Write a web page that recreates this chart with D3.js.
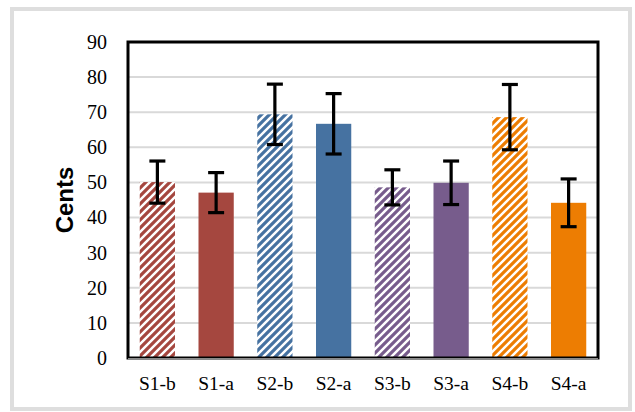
<!DOCTYPE html>
<html>
<head>
<meta charset="utf-8">
<script src="https://cdn.jsdelivr.net/npm/d3@7"></script>
<style>
  html, body { margin: 0; padding: 0; background: #fff; }
  svg { display: block; }
</style>
</head>
<body>
<svg id="chart" width="635" height="412"></svg>
<script>
// Category labels and their groups (b = hatched, a = solid)
const categories = ["S1-b", "S1-a", "S2-b", "S2-a", "S3-b", "S3-a", "S4-b", "S4-a"];
const values     = [50.1, 47.1, 69.4, 66.7, 48.6, 49.9, 68.6, 44.2];
const errors     = [6.0, 5.7, 8.6, 8.6, 5.0, 6.2, 9.3, 6.8];
const hatched    = [true, false, true, false, true, false, true, false];
const colors     = ["#a5473f", "#a5473f", "#4672a1", "#4672a1", "#775c8c", "#775c8c", "#ed7d02", "#ed7d02"];
const yTicks     = [0, 10, 20, 30, 40, 50, 60, 70, 80, 90];
const yLabel     = "Cents";

const svg = d3.select("#chart");

// Outer chart-area border
svg.append("rect")
  .attr("x", 12).attr("y", 9)
  .attr("width", 618).attr("height", 400)
  .attr("fill", "#fff")
  .attr("stroke", "#dedede")
  .attr("stroke-width", 4);

const plot = { left: 128, right: 598, top: 42, bottom: 358 };

const x = d3.scaleBand()
  .domain(categories)
  .range([plot.left, plot.right])
  .paddingInner(0.4)
  .paddingOuter(0.2);

const y = d3.scaleLinear()
  .domain([0, 90])
  .range([plot.bottom, plot.top]);

// Hatch patterns, one per colour
const defs = svg.append("defs");
const uniqueColors = Array.from(new Set(colors));
uniqueColors.forEach((c, i) => {
  const p = defs.append("pattern")
    .attr("id", "hatch" + i)
    .attr("patternUnits", "userSpaceOnUse")
    .attr("width", 8).attr("height", 8);
  p.append("rect").attr("width", 8).attr("height", 8).attr("fill", "#fff");
  p.append("path")
    .attr("d", "M-2,2 L2,-2 M0,8 L8,0 M6,10 L10,6")
    .attr("stroke", c)
    .attr("stroke-width", 3.2);
});
const patternFor = c => "url(#hatch" + uniqueColors.indexOf(c) + ")";

// Gridlines
svg.append("g")
  .selectAll("line")
  .data(yTicks.filter(t => t > 0 && t < 90))
  .join("line")
  .attr("x1", plot.left).attr("x2", plot.right)
  .attr("y1", d => y(d)).attr("y2", d => y(d))
  .attr("stroke", "#d9d9d9")
  .attr("stroke-width", 2);

// Bars
svg.append("g")
  .selectAll("rect")
  .data(categories)
  .join("rect")
  .attr("x", d => x(d))
  .attr("width", x.bandwidth())
  .attr("y", (d, i) => y(values[i]))
  .attr("height", (d, i) => y(0) - y(values[i]))
  .attr("fill", (d, i) => hatched[i] ? patternFor(colors[i]) : colors[i]);

// Plot frame
svg.append("rect")
  .attr("x", plot.left).attr("y", plot.top)
  .attr("width", plot.right - plot.left)
  .attr("height", plot.bottom - plot.top)
  .attr("fill", "none")
  .attr("stroke", "#000")
  .attr("stroke-width", 3);

// Category axis line
svg.append("line")
  .attr("x1", plot.left).attr("x2", plot.right)
  .attr("y1", plot.bottom + 1).attr("y2", plot.bottom + 1)
  .attr("stroke", "#8a8a8a")
  .attr("stroke-width", 2);

// Error bars
const eb = svg.append("g").attr("stroke", "#000").attr("stroke-width", 3.2);
categories.forEach((c, i) => {
  const cx = x(c) + x.bandwidth() / 2;
  const hi = y(values[i] + errors[i]);
  const lo = y(values[i] - errors[i]);
  eb.append("line").attr("x1", cx).attr("x2", cx).attr("y1", hi).attr("y2", lo);
  eb.append("line").attr("x1", cx - 8).attr("x2", cx + 8).attr("y1", hi).attr("y2", hi);
  eb.append("line").attr("x1", cx - 8).attr("x2", cx + 8).attr("y1", lo).attr("y2", lo);
});

// Y axis labels
const yAxis = d3.axisLeft(y).tickValues(yTicks).tickSize(0).tickPadding(21);
const gy = svg.append("g")
  .attr("transform", `translate(${plot.left},0)`)
  .call(yAxis);
gy.select(".domain").remove();
gy.selectAll("text")
  .attr("font-family", "'Liberation Serif', serif")
  .attr("font-size", 20)
  .attr("fill", "#000");

// X axis labels
const xAxis = d3.axisBottom(x).tickSize(0).tickPadding(18);
const gx = svg.append("g")
  .attr("transform", `translate(0,${plot.bottom})`)
  .call(xAxis);
gx.select(".domain").remove();
gx.selectAll("text")
  .attr("font-family", "'Liberation Serif', serif")
  .attr("font-size", 19.5)
  .attr("fill", "#000");

// Y axis title
svg.append("text")
  .attr("transform", `translate(73,${(plot.top + plot.bottom) / 2}) rotate(-90)`)
  .attr("text-anchor", "middle")
  .attr("font-family", "'Liberation Sans', Arial, sans-serif")
  .attr("font-weight", "bold")
  .attr("font-size", 24)
  .attr("fill", "#000")
  .text(yLabel);
</script>
</body>
</html>
